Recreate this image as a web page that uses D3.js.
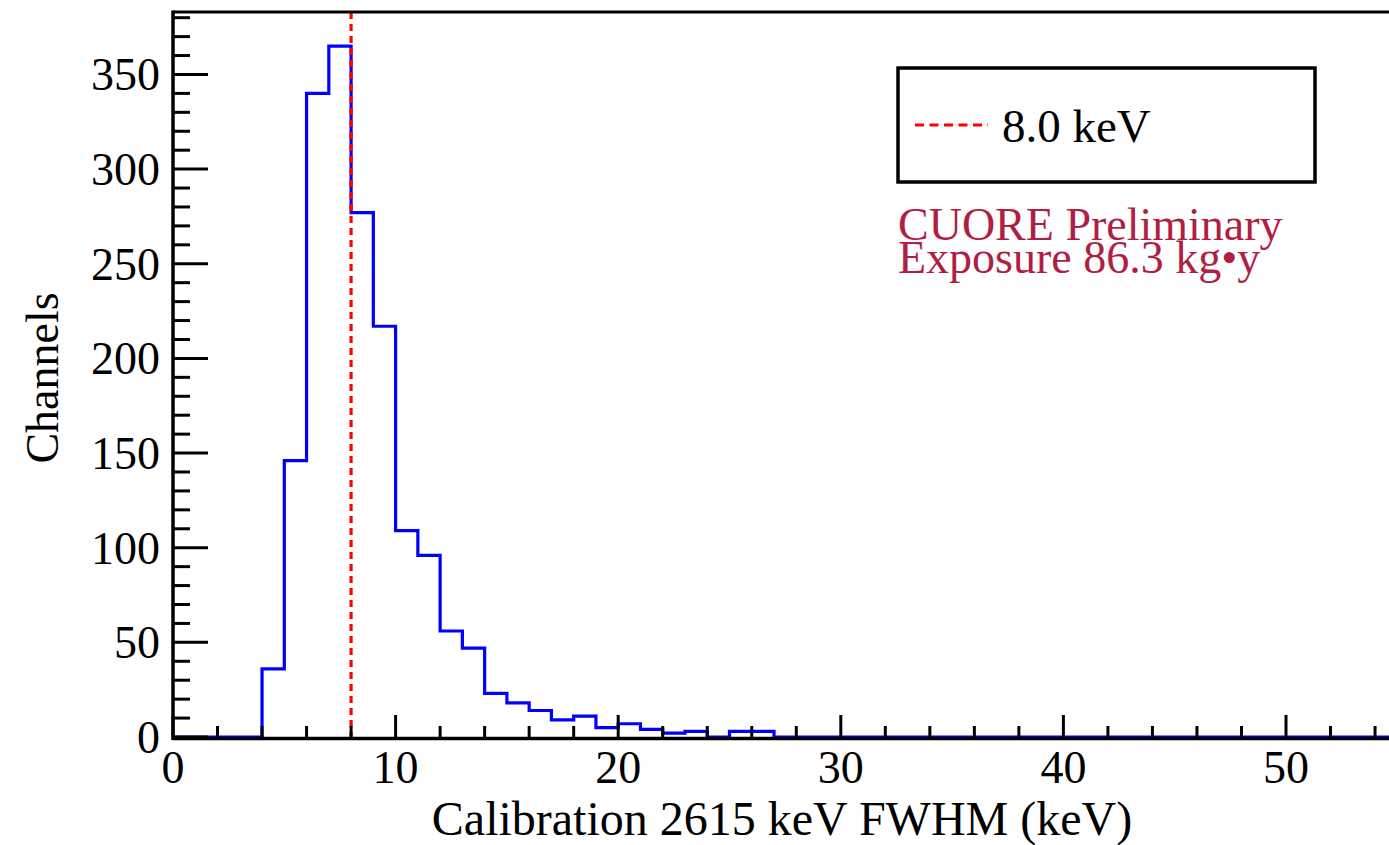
<!DOCTYPE html>
<html>
<head>
<meta charset="utf-8">
<script src="https://cdn.jsdelivr.net/npm/d3@7"></script>
<style>
  body { margin: 0; background: #fff; }
  svg { display: block; }
  text { font-family: "Liberation Serif", "Times New Roman", serif; }
</style>
</head>
<body>
<script>
// histogram of channel resolutions, 1 keV bins starting at 0
var binEdges = d3.range(0, 56);   // 0..55
var counts = [0, 0, 0, 0, 36, 146, 340, 365, 277, 217,
              109, 96, 56, 47, 23, 18, 14, 9, 11, 5,
              7, 4, 2, 3, 0, 3, 3, 0, 0, 0,
              0, 0, 0, 0, 0, 0, 0, 0, 0, 0,
              0, 0, 0, 0, 0, 0, 0, 0, 0, 0,
              0, 0, 0, 0, 0];
var xTicks = [0, 10, 20, 30, 40, 50];
var yTicks = [0, 50, 100, 150, 200, 250, 300, 350];
var cutValue = 8.0;
var legendLabel = "8.0 keV";
var noteLines = ["CUORE Preliminary", "Exposure 86.3 kg\u2022y"];

var W = 1389, H = 845;
var plot = { left: 173, top: 12, bottom: 737 };

var x = d3.scaleLinear().domain([0, 55]).range([plot.left, plot.left + 55 * 22.26]);
var y = d3.scaleLinear().domain([0, 383]).range([plot.bottom, plot.top]);

var svg = d3.select("body").append("svg")
    .attr("width", W)
    .attr("height", H);

// histogram outline
var pts = binEdges.map(function(e, i) {
    return [e, i < counts.length ? counts[i] : counts[counts.length - 1]];
});
var line = d3.line()
    .x(function(d) { return x(d[0]); })
    .y(function(d) { return y(d[1]); })
    .curve(d3.curveStepAfter);

svg.append("path")
    .attr("d", line(pts))
    .attr("fill", "none")
    .attr("stroke", "#0000ff")
    .attr("stroke-width", 3.2);

// cut line
svg.append("line")
    .attr("x1", x(cutValue)).attr("x2", x(cutValue))
    .attr("y1", plot.top).attr("y2", plot.bottom + 2)
    .attr("stroke", "#ff0000")
    .attr("stroke-width", 3.2)
    .attr("stroke-dasharray", "7,5");

// frame: top and left
svg.append("line")
    .attr("x1", plot.left).attr("x2", W)
    .attr("y1", plot.top).attr("y2", plot.top)
    .attr("stroke", "#000").attr("stroke-width", 3);

// x axis
var xMinor = d3.range(0, 56, 2).filter(function(v) { return v % 10 !== 0; });
var xa = svg.append("g");
xa.append("line")
    .attr("x1", plot.left).attr("x2", W)
    .attr("y1", plot.bottom + 1.5).attr("y2", plot.bottom + 1.5)
    .attr("stroke", "#000").attr("stroke-width", 3.5);
xa.selectAll(".xmaj").data(xTicks).enter().append("line")
    .attr("x1", x).attr("x2", x)
    .attr("y1", plot.bottom).attr("y2", plot.bottom - 22)
    .attr("stroke", "#000").attr("stroke-width", 3);
xa.selectAll(".xmin").data(xMinor).enter().append("line")
    .attr("x1", x).attr("x2", x)
    .attr("y1", plot.bottom).attr("y2", plot.bottom - 11)
    .attr("stroke", "#000").attr("stroke-width", 3);
xa.selectAll(".xlab").data(xTicks).enter().append("text")
    .attr("x", x)
    .attr("y", 783)
    .attr("text-anchor", "middle")
    .attr("font-size", 46)
    .text(function(d) { return d; });

// y axis
var yMinor = d3.range(0, 381, 10).filter(function(v) { return v % 50 !== 0; });
var ya = svg.append("g");
ya.append("line")
    .attr("x1", plot.left).attr("x2", plot.left)
    .attr("y1", plot.top - 1.5).attr("y2", plot.bottom + 3)
    .attr("stroke", "#000").attr("stroke-width", 3.5);
ya.selectAll(".ymaj").data(yTicks).enter().append("line")
    .attr("x1", plot.left).attr("x2", plot.left + 35)
    .attr("y1", y).attr("y2", y)
    .attr("stroke", "#000").attr("stroke-width", 3);
ya.selectAll(".ymin").data(yMinor).enter().append("line")
    .attr("x1", plot.left).attr("x2", plot.left + 17)
    .attr("y1", y).attr("y2", y)
    .attr("stroke", "#000").attr("stroke-width", 3);
ya.selectAll(".ylab").data(yTicks).enter().append("text")
    .attr("x", 160)
    .attr("y", function(d) { return y(d) + 16; })
    .attr("text-anchor", "end")
    .attr("font-size", 46)
    .text(function(d) { return d; });

// axis titles
svg.append("text")
    .attr("x", 782).attr("y", 835)
    .attr("text-anchor", "middle")
    .attr("font-size", 48)
    .text("Calibration 2615 keV FWHM (keV)");
svg.append("text")
    .attr("transform", "translate(58,378) rotate(-90)")
    .attr("text-anchor", "middle")
    .attr("font-size", 46)
    .text("Channels");

// legend
var lg = svg.append("g");
lg.append("rect")
    .attr("x", 898).attr("y", 68)
    .attr("width", 417).attr("height", 114)
    .attr("fill", "#fff")
    .attr("stroke", "#000").attr("stroke-width", 3.5);
lg.append("line")
    .attr("x1", 915).attr("x2", 988)
    .attr("y1", 125).attr("y2", 125)
    .attr("stroke", "#ff0000").attr("stroke-width", 3)
    .attr("stroke-dasharray", "9,5.5");
lg.append("text")
    .attr("x", 1002).attr("y", 142)
    .attr("font-size", 47)
    .text(legendLabel);

// annotation
svg.selectAll(".note").data(noteLines).enter().append("text")
    .attr("x", 898)
    .attr("y", function(d, i) { return 240 + i * 33; })
    .attr("font-size", 46)
    .attr("fill", "#b01e44")
    .text(function(d) { return d; });
</script>
</body>
</html>
